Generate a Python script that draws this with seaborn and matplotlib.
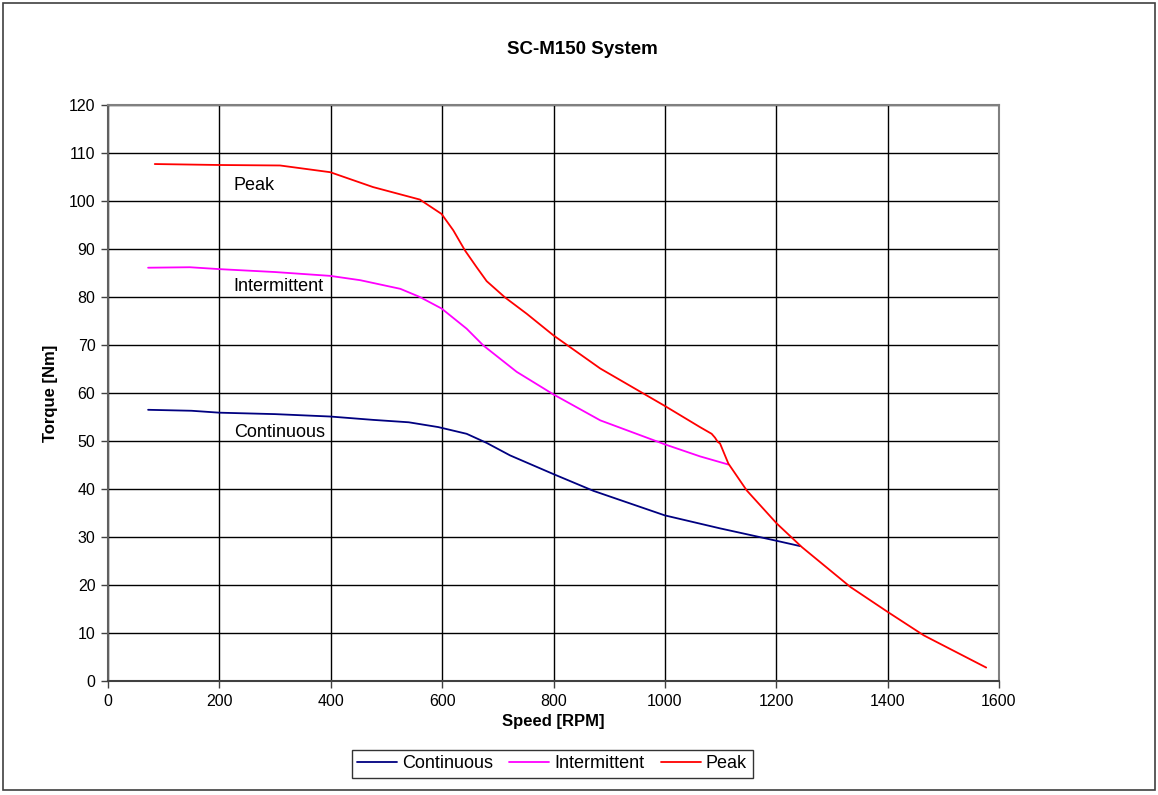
import pandas as pd
import matplotlib.pyplot as plt
import seaborn as sns
from matplotlib.patches import Rectangle

# Curve values
cont_rpm = [72, 150, 200, 300, 399, 476, 540, 593, 644, 680, 722, 800, 872, 1000, 1099, 1201, 1243]
cont_nm = [56.5, 56.3, 55.9, 55.6, 55.1, 54.4, 53.9, 52.9, 51.5, 49.6, 47.0, 43.1, 39.6, 34.5, 31.8, 29.2, 28.1]

inter_rpm = [72, 147, 201, 300, 399, 453, 525, 560, 599, 644, 674, 734, 800, 884, 1000, 1063, 1114]
inter_nm = [86.1, 86.2, 85.8, 85.2, 84.4, 83.5, 81.7, 80.0, 77.6, 73.4, 69.9, 64.4, 59.7, 54.3, 49.3, 46.8, 45.1]

peak_rpm = [84, 200, 309, 399, 476, 560, 599, 620, 641, 662, 680, 713, 752, 800, 884, 1000, 1063, 1084,
            1090, 1095, 1099, 1114, 1147, 1201, 1246, 1333, 1400, 1465, 1577]
peak_nm = [107.7, 107.5, 107.4, 106.0, 102.9, 100.3, 97.3, 93.9, 89.7, 86.2, 83.3, 79.9, 76.5, 72.0, 65.1,
           57.3, 52.9, 51.5, 50.7, 49.8, 49.5, 45.3, 39.7, 32.8, 27.9, 19.6, 14.4, 9.5, 2.8]

series = ['Continuous', 'Intermittent', 'Peak']
colors = ['#000080', '#FF00FF', '#FF0000']

df = pd.concat([
    pd.DataFrame({'Speed': cont_rpm, 'Torque': cont_nm, 'Curve': 'Continuous'}),
    pd.DataFrame({'Speed': inter_rpm, 'Torque': inter_nm, 'Curve': 'Intermittent'}),
    pd.DataFrame({'Speed': peak_rpm, 'Torque': peak_nm, 'Curve': 'Peak'}),
], ignore_index=True)

sns.set_theme(style='white')
plt.rcParams['font.family'] = ['Liberation Sans', 'DejaVu Sans']
plt.rcParams.update({'text.color': 'black', 'axes.labelcolor': 'black',
                     'xtick.color': 'black', 'ytick.color': 'black'})

fig = plt.figure(figsize=(11.58, 7.95), dpi=100)
ax = fig.add_axes([108 / 1158, 1 - 681 / 795, 891 / 1158, 576 / 795])

sns.lineplot(data=df, x='Speed', y='Torque', hue='Curve', hue_order=series,
             palette=colors, sort=False, estimator=None, linewidth=1.3, ax=ax)

ax.set_xlim(0, 1600)
ax.set_ylim(0, 120)
ax.set_xticks(range(0, 1601, 200))
ax.set_yticks(range(0, 121, 10))
ax.grid(True, color='black', linewidth=1.0)
ax.set_axisbelow(True)
for s in ax.spines.values():
    s.set_color('#808080')
    s.set_linewidth(1.5)
ax.spines['bottom'].set_color('#404040')
ax.spines['left'].set_color('#606060')
ax.tick_params(axis='both', direction='out', length=5, width=1, color='#404040',
               labelsize=11.5, pad=4, bottom=True, left=True)

ax.set_xlabel('Speed [RPM]', fontsize=12, fontweight='bold', labelpad=4)
ax.set_ylabel('Torque [Nm]', fontsize=12, fontweight='bold', labelpad=8)

# Curve labels on the chart
ax.text(226, 103.3, 'Peak', fontsize=13, va='center', ha='left')
ax.text(226, 82.1, 'Intermittent', fontsize=13, va='center', ha='left')
ax.text(226, 51.8, 'Continuous', fontsize=13, va='center', ha='left')

fig.text(582 / 1158, 1 - 49 / 795, 'SC-M150 System', fontsize=13.5, fontweight='bold',
         ha='center', va='center')

handles, labels = ax.get_legend_handles_labels()
ax.get_legend().remove()
leg = fig.legend(handles, labels, loc='center', bbox_to_anchor=(552 / 1158, 1 - 764 / 795),
                 ncol=3, fontsize=13, frameon=True, fancybox=False, handlelength=2.2,
                 handletextpad=0.3, columnspacing=0.9, borderpad=0.3, borderaxespad=0)
leg.get_frame().set_edgecolor('black')
leg.get_frame().set_linewidth(1.0)

fig.patches.append(Rectangle((3 / 1158, 5 / 795), 1152 / 1158, 787 / 795, transform=fig.transFigure,
                             fill=False, edgecolor='#404040', linewidth=1.2))

plt.savefig('out.png', dpi=100)
